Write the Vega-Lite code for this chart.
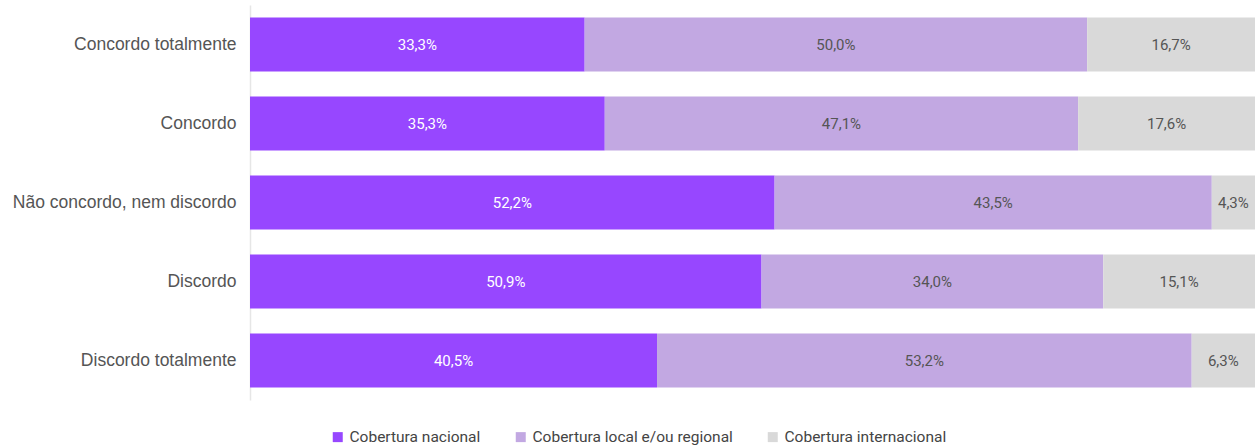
{
  "$schema": "https://vega.github.io/schema/vega-lite/v6.json",
  "width": 1005,
  "height": 395,
  "autosize": {"type": "none"},
  "padding": {"left": 250, "top": 5, "right": 0, "bottom": 48},
  "background": "white",
  "config": {
    "view": {"stroke": null},
    "locale": {"number": {"decimal": ",", "thousands": ".", "grouping": [3], "currency": ["", "€"]}}
  },
  "data": {
    "values": [
      {"resposta": "Concordo totalmente", "cobertura": "Cobertura nacional", "k": 0, "valor": 0.333},
      {"resposta": "Concordo totalmente", "cobertura": "Cobertura local e/ou regional", "k": 1, "valor": 0.5},
      {"resposta": "Concordo totalmente", "cobertura": "Cobertura internacional", "k": 2, "valor": 0.167},
      {"resposta": "Concordo", "cobertura": "Cobertura nacional", "k": 0, "valor": 0.353},
      {"resposta": "Concordo", "cobertura": "Cobertura local e/ou regional", "k": 1, "valor": 0.471},
      {"resposta": "Concordo", "cobertura": "Cobertura internacional", "k": 2, "valor": 0.176},
      {"resposta": "Não concordo, nem discordo", "cobertura": "Cobertura nacional", "k": 0, "valor": 0.522},
      {"resposta": "Não concordo, nem discordo", "cobertura": "Cobertura local e/ou regional", "k": 1, "valor": 0.435},
      {"resposta": "Não concordo, nem discordo", "cobertura": "Cobertura internacional", "k": 2, "valor": 0.043},
      {"resposta": "Discordo", "cobertura": "Cobertura nacional", "k": 0, "valor": 0.509},
      {"resposta": "Discordo", "cobertura": "Cobertura local e/ou regional", "k": 1, "valor": 0.34},
      {"resposta": "Discordo", "cobertura": "Cobertura internacional", "k": 2, "valor": 0.151},
      {"resposta": "Discordo totalmente", "cobertura": "Cobertura nacional", "k": 0, "valor": 0.405},
      {"resposta": "Discordo totalmente", "cobertura": "Cobertura local e/ou regional", "k": 1, "valor": 0.532},
      {"resposta": "Discordo totalmente", "cobertura": "Cobertura internacional", "k": 2, "valor": 0.063}
    ]
  },
  "transform": [
    {"stack": "valor", "groupby": ["resposta"], "sort": [{"field": "k", "order": "ascending"}], "as": ["v0", "v1"]},
    {"calculate": "(datum.v0 + datum.v1) / 2", "as": "mid"}
  ],
  "encoding": {
    "y": {
      "field": "resposta",
      "type": "nominal",
      "sort": ["Concordo totalmente", "Concordo", "Não concordo, nem discordo", "Discordo", "Discordo totalmente"],
      "title": null,
      "scale": {"paddingInner": 0.316, "paddingOuter": 0.158},
      "axis": {
        "ticks": false,
        "labelPadding": 14,
        "labelFont": "Liberation Sans",
        "labelFontSize": 17.5,
        "labelColor": "#555555",
        "labelLimit": 0,
        "domainColor": "#e6e6e6",
        "domainWidth": 1.5
      }
    }
  },
  "layer": [
    {
      "mark": {"type": "bar"},
      "encoding": {
        "x": {"field": "v0", "type": "quantitative", "scale": {"domain": [0, 1], "nice": false}, "axis": null},
        "x2": {"field": "v1"},
        "color": {
          "field": "cobertura",
          "type": "nominal",
          "sort": ["Cobertura nacional", "Cobertura local e/ou regional", "Cobertura internacional"],
          "scale": {
            "domain": ["Cobertura nacional", "Cobertura local e/ou regional", "Cobertura internacional"],
            "range": ["#9747ff", "#c2a8e2", "#d9d9d9"]
          },
          "legend": {
            "title": null,
            "orient": "none",
            "direction": "horizontal",
            "legendX": 80,
            "legendY": 424,
            "symbolType": "square",
            "symbolSize": 100,
            "symbolStrokeWidth": 0,
            "symbolOffset": 0,
            "labelOffset": 4,
            "labelFont": "Roboto",
            "labelFontSize": 15.5,
            "labelColor": "#444444",
            "labelLimit": 0,
            "columnPadding": 32
          }
        }
      }
    },
    {
      "mark": {"type": "text", "font": "Roboto", "fontSize": 15},
      "encoding": {
        "x": {"field": "mid", "type": "quantitative"},
        "text": {"field": "valor", "type": "quantitative", "format": ".1%"},
        "color": {
          "condition": {"test": "datum.k == 0", "value": "#ffffff"},
          "value": "#555555"
        }
      }
    }
  ]
}
